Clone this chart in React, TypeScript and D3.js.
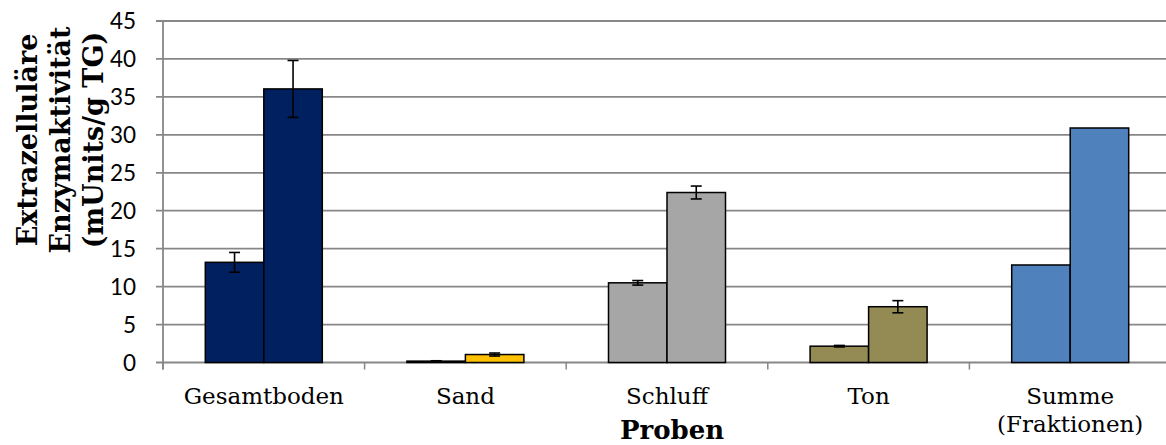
import React from "react";
import * as d3 from "d3";

const categories = ["Gesamtboden", "Sand", "Schluff", "Ton", "Summe|(Fraktionen)"];
const series1 = [13.2, 0.18, 10.5, 2.15, 12.85];
const series2 = [36.05, 1.05, 22.4, 7.35, 30.9];
const err1 = [1.3, 0.05, 0.3, 0.1, 0];
const err2 = [3.75, 0.2, 0.85, 0.8, 0];
const colors = ["#002060", "#FFC000", "#A6A6A6", "#948A54", "#4F81BD"];
const yTicks = [0, 5, 10, 15, 20, 25, 30, 35, 40, 45];
const yTitle = ["Extrazelluläre", "Enzymaktivität", "(mUnits/g TG)"];
const xTitle = "Proben";

const W = 1166, H = 445;
const left = 163, right = 1171, top = 21, bottom = 362.5;

export default function App() {
  const x = d3.scaleBand<number>().domain(categories.map((_, i) => i)).range([left, right]).paddingInner(0).paddingOuter(0);
  const y = d3.scaleLinear().domain([0, 45]).range([bottom, top]);
  const bw = 58.5;
  const grid = "#878787";
  return (
    <svg width={W} height={H} style={{ display: "block", position: "absolute", left: 0, top: 0 }}>
      <rect width={W} height={H} fill="#fff" />
      {yTicks.map((t) => (
        <g key={t}>
          <line x1={left - 7} x2={right} y1={y(t)} y2={y(t)} stroke={grid} strokeWidth={1.8} />
          <text x={136} y={y(t)} dy="0.36em" textAnchor="end" fontFamily="Lato, 'Open Sans', sans-serif" fontSize={22.5} fill="#000">{t}</text>
        </g>
      ))}
      <line x1={left} x2={left} y1={top} y2={bottom + 7} stroke={grid} strokeWidth={1.8} />
      {categories.map((_, i) => (
        <line key={i} x1={x(i)!} x2={x(i)!} y1={bottom} y2={bottom + 7} stroke={grid} strokeWidth={1.5} />
      ))}
      {categories.map((c, i) => {
        const cx = x(i)! + x.bandwidth() / 2;
        const vals = [series1[i], series2[i]];
        const errs = [err1[i], err2[i]];
        return (
          <g key={c}>
            {vals.map((v, j) => {
              const bx = j === 0 ? cx - bw : cx;
              return (
                <rect key={j} x={bx} y={y(v)} width={bw} height={bottom - y(v)} fill={colors[i]} stroke="#000" strokeWidth={1.5} />
              );
            })}
            {vals.map((v, j) => {
              const e = errs[j];
              if (!e) return null;
              const ex = (j === 0 ? cx - bw / 2 : cx + bw / 2);
              return (
                <g key={"e" + j} stroke="#000" strokeWidth={1.6}>
                  <line x1={ex} x2={ex} y1={y(v + e)} y2={y(v - e)} />
                  <line x1={ex - 5.5} x2={ex + 5.5} y1={y(v + e)} y2={y(v + e)} />
                  <line x1={ex - 5.5} x2={ex + 5.5} y1={y(v - e)} y2={y(v - e)} />
                </g>
              );
            })}
            {c.split("|").map((line, k) => (
              <text key={k} x={cx} y={404 + k * 28} textAnchor="middle" fontFamily="'DejaVu Serif', serif" fontSize={23} fill="#000">{line}</text>
            ))}
          </g>
        );
      })}
      <text x={672} y={439} textAnchor="middle" fontFamily="'DejaVu Serif', serif" fontWeight="bold" fontSize={26} fill="#000">{xTitle}</text>
      {yTitle.map((t, k) => (
        <text key={k} transform={`translate(${37 + k * 33},140) rotate(-90)`} textAnchor="middle" fontFamily="'DejaVu Serif', serif" fontWeight="bold" fontSize={27} fill="#000">{t}</text>
      ))}
    </svg>
  );
}
